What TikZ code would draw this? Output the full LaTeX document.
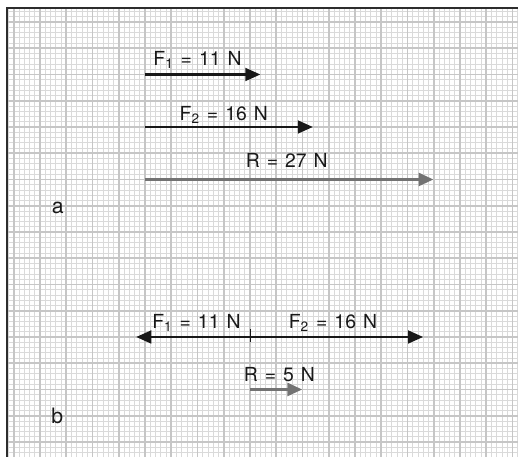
\documentclass[tikz,border=0pt]{standalone}
\usepackage{fontspec}
\setmainfont{TeX Gyre Heros}[WordSpace={1.3}]
\definecolor{fblack}{RGB}{25,25,25}
\definecolor{rgray}{RGB}{115,115,115}
\definecolor{gridminor}{RGB}{218,218,218}
\definecolor{gridmajor}{RGB}{198,198,198}
\definecolor{framegray}{RGB}{45,45,45}
\usetikzlibrary{arrows.meta,positioning}

\begin{document}
\begin{tikzpicture}[x=1mm, y=1mm,
  force/.style={draw=fblack, line width=1.6pt, -{Triangle[length=2.9mm, width=2.4mm]}},
  result/.style={draw=rgray, line width=2.1pt, -{Triangle[length=2.9mm, width=2.4mm]}},
  lbl/.style={anchor=base, inner sep=0pt, font=\fontsize{10.5}{13}\selectfont, text=fblack},
  part/.style={anchor=base, inner sep=0pt, font=\fontsize{11.5}{13}\selectfont, text=fblack}]
  \useasboundingbox (-7.62,-82.86) rectangle (91.05,4.19);
  % graph paper
  \draw[gridminor, line width=0.5pt, step=1mm] (-6.29,-82.86) grid (91.05,2.67);
  \draw[gridmajor, line width=1pt, step=5mm] (-6.29,-82.86) grid (91.05,2.67);
  \draw[framegray, line width=1.1pt] (-6.29,-82.86) -- (-6.29,2.67) -- (91.05,2.67);
  % a: same direction
  \coordinate (a0) at (20,-10);
  \coordinate (a1) at (42,-10);
  \coordinate (a2) at (20,-20);
  \coordinate (a3) at (52,-20);
  \coordinate (a4) at (20,-30);
  \coordinate (a5) at (75,-30);
  \draw[force] (a0) -- (a1);
  \draw[force] (a2) -- (a3);
  \draw[result] (a4) -- (a5);
  \node[lbl] (f1a) at (30,-8.2) {F\textsubscript{1} = 11 N};
  \node[lbl] (f2a) at (35,-18.7) {F\textsubscript{2} = 16 N};
  \node[lbl] (ra) at (47,-27.8) {R = 27 N};
  \node[part] (pa) at (3.4,-36.4) {a};
  % b: opposite directions
  \coordinate (o) at (40,-60);
  \coordinate (b1) at (18.3,-60);
  \coordinate (b2) at (73,-60);
  \coordinate (b3) at (40,-70);
  \coordinate (b4) at (50,-70);
  \draw[force] (o) -- (b1);
  \draw[force] (o) -- (b2);
  \draw[fblack, line width=0.5pt] ([yshift=-0.9mm]o) -- ([yshift=1.5mm]o);
  \draw[result] (b3) -- (b4);
  \node[lbl] (f1b) at (29.8,-58.3) {F\textsubscript{1} = 11 N};
  \node[lbl] (f2b) at (55.8,-58.3) {F\textsubscript{2} = 16 N};
  \node[lbl] (rb) at (45.6,-68.5) {R = 5 N};
  \node[part] (pb) at (3.3,-76.4) {b};
\end{tikzpicture}
\end{document}
